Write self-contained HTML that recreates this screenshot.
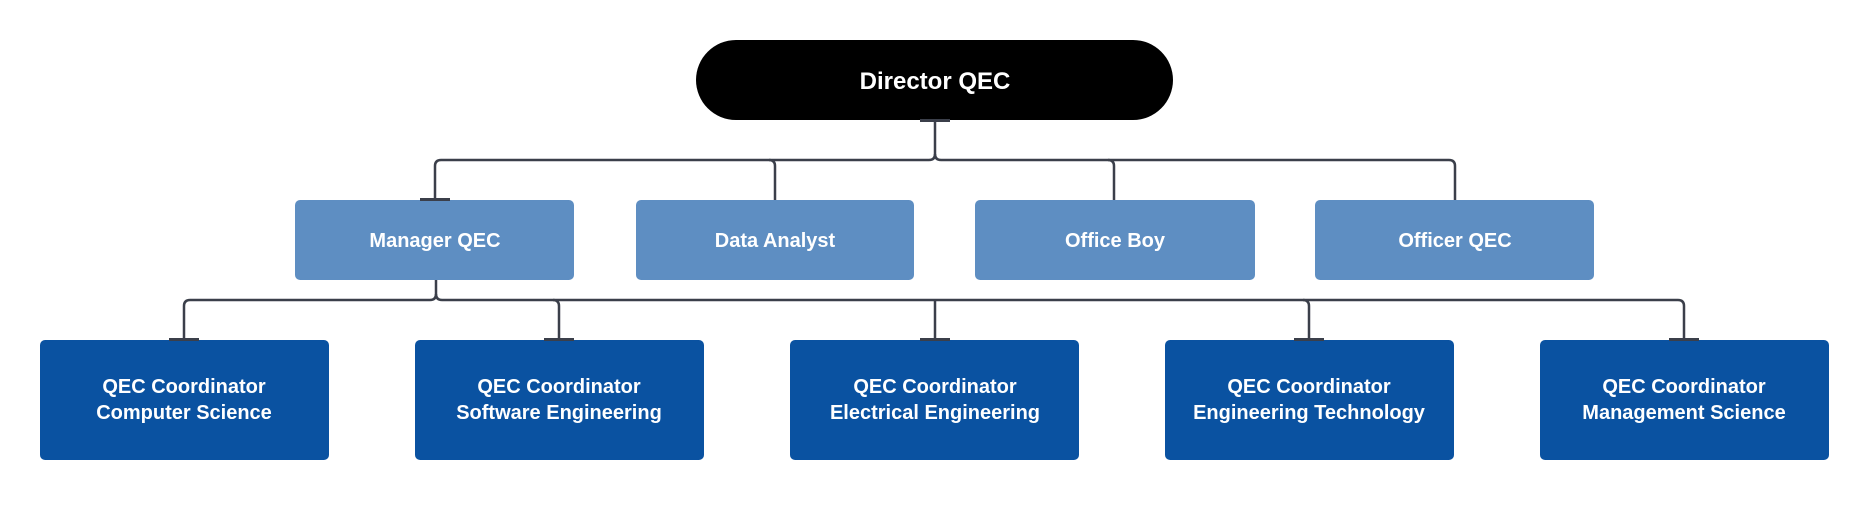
<!DOCTYPE html>
<html><head><meta charset="utf-8"><style>
html,body{margin:0;padding:0;background:#fff;}
text{font-family:"Liberation Sans",sans-serif;font-weight:bold;fill:#fff;text-anchor:middle;}
</style></head><body>
<svg width="1870" height="500" xmlns="http://www.w3.org/2000/svg">
<g fill="none" stroke="#3b3f4a" stroke-width="2.5">
<path d="M935 120 V154 Q935 160 929 160 H441 Q435 160 435 166 V200"/>
<path d="M935 154 Q935 160 941 160 H1449 Q1455 160 1455 166 V200"/>
<path d="M769 160 Q775 160 775 166 V200"/>
<path d="M1108 160 Q1114 160 1114 166 V200"/>
<path d="M436 280 V294 Q436 300 430 300 H190 Q184 300 184 306 V340"/>
<path d="M436 294 Q436 300 442 300 H1678 Q1684 300 1684 306 V340"/>
<path d="M553 300 Q559 300 559 306 V340"/>
<path d="M935 300 V340"/>
<path d="M1303 300 Q1309 300 1309 306 V340"/>
</g>
<rect x="696" y="40" width="477" height="80" rx="40" fill="#000"/>
<text x="935" y="89" font-size="24">Director QEC</text>
<g fill="#5e8ec2">
<rect x="295" y="200" width="279" height="80" rx="5"/>
<rect x="636" y="200" width="278" height="80" rx="5"/>
<rect x="975" y="200" width="280" height="80" rx="5"/>
<rect x="1315" y="200" width="279" height="80" rx="5"/>
</g>
<g font-size="20">
<text x="435" y="247">Manager QEC</text>
<text x="775" y="247">Data Analyst</text>
<text x="1115" y="247">Office Boy</text>
<text x="1455" y="247">Officer QEC</text>
</g>
<g fill="#0a52a1">
<rect x="40" y="340" width="289" height="120" rx="5"/>
<rect x="415" y="340" width="289" height="120" rx="5"/>
<rect x="790" y="340" width="289" height="120" rx="5"/>
<rect x="1165" y="340" width="289" height="120" rx="5"/>
<rect x="1540" y="340" width="289" height="120" rx="5"/>
</g>
<g fill="#3b3f4a">
<rect x="920" y="119" width="30" height="3"/>
<rect x="420" y="198" width="30" height="3"/>
<rect x="169" y="338" width="30" height="3"/>
<rect x="544" y="338" width="30" height="3"/>
<rect x="920" y="338" width="30" height="3"/>
<rect x="1294" y="338" width="30" height="3"/>
<rect x="1669" y="338" width="30" height="3"/>
</g>
<g font-size="20">
<text x="184" y="393">QEC Coordinator</text><text x="184" y="419">Computer Science</text>
<text x="559" y="393">QEC Coordinator</text><text x="559" y="419">Software Engineering</text>
<text x="935" y="393">QEC Coordinator</text><text x="935" y="419">Electrical Engineering</text>
<text x="1309" y="393">QEC Coordinator</text><text x="1309" y="419">Engineering Technology</text>
<text x="1684" y="393">QEC Coordinator</text><text x="1684" y="419">Management Science</text>
</g>
</svg>
</body></html>
